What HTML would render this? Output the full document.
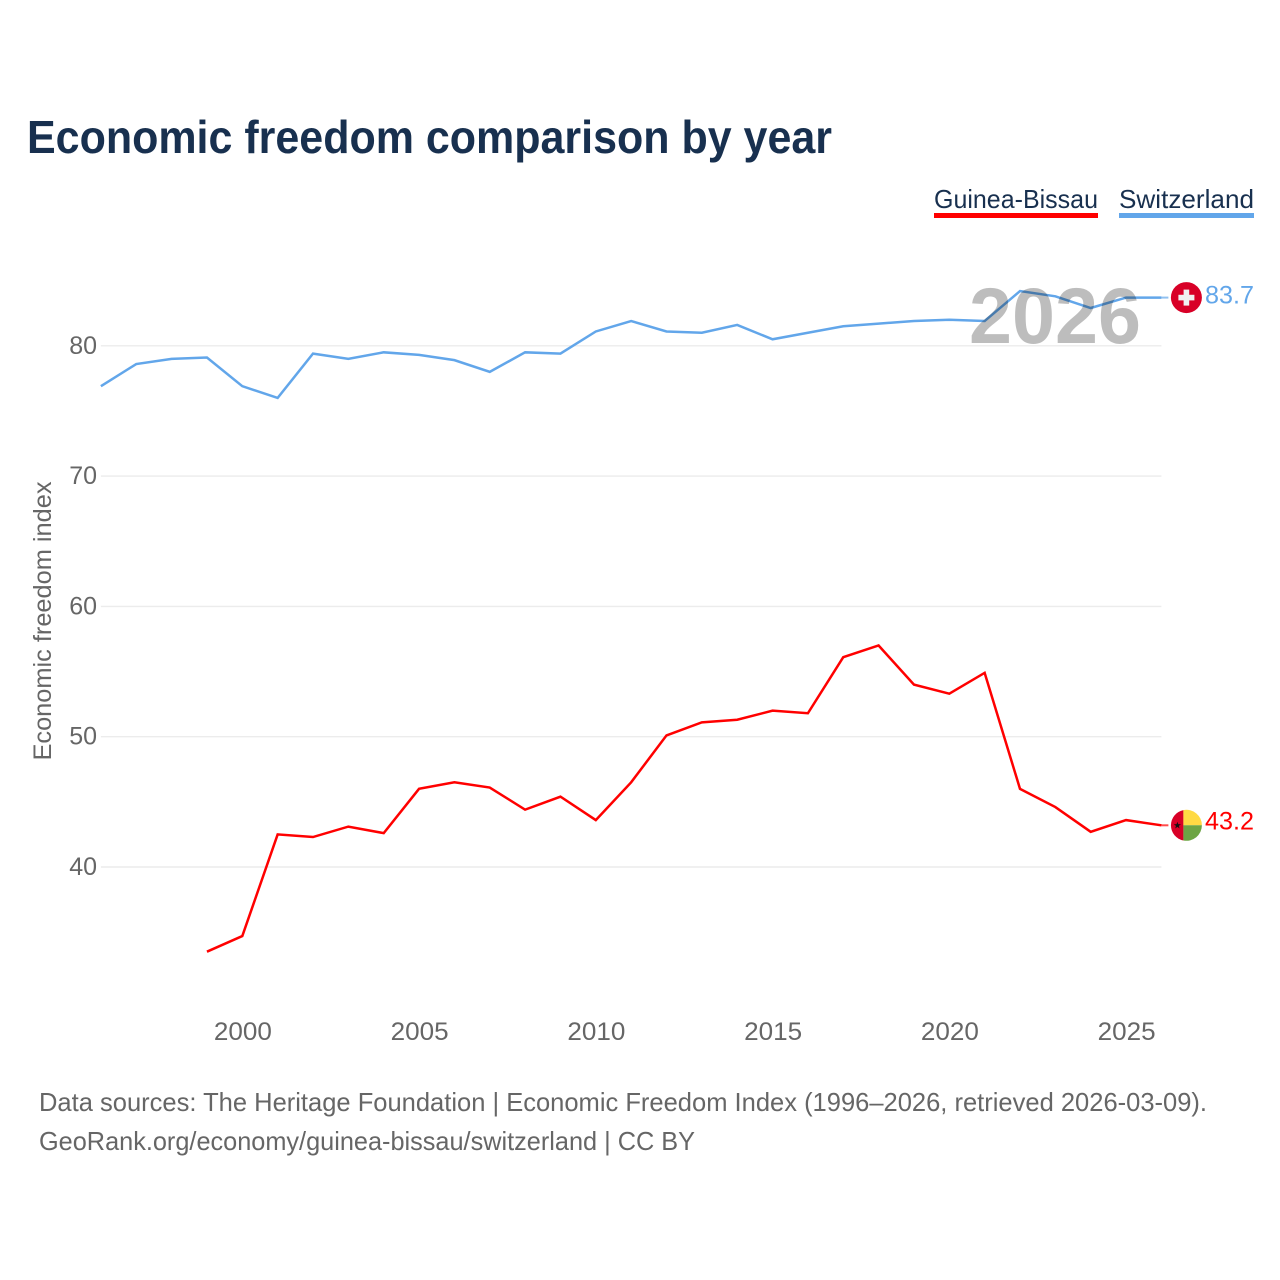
<!DOCTYPE html>
<html>
<head>
<meta charset="utf-8">
<title>Economic freedom comparison by year</title>
<style>
html,body{margin:0;padding:0;background:#fff;}
svg{display:block;font-family:"Liberation Sans",sans-serif;}
</style>
</head>
<body>
<svg id="chart" width="1280" height="1280" viewBox="0 0 1280 1280" xmlns="http://www.w3.org/2000/svg">
<rect width="1280" height="1280" fill="#fff"/>
<text x="27" y="153" font-size="46" font-weight="700" fill="#18304f" textLength="805" lengthAdjust="spacingAndGlyphs">Economic freedom comparison by year</text>
<g id="grid"></g>
<g id="yticks"></g>
<g id="xticks"></g>
<text transform="translate(51,621) rotate(-90)" text-anchor="middle" font-size="25" fill="#666" textLength="279" lengthAdjust="spacingAndGlyphs">Economic freedom index</text>
<g id="series"></g>
<text x="1055" y="343" text-anchor="middle" font-size="79" font-weight="700" fill="#000" fill-opacity="0.26" textLength="172" lengthAdjust="spacingAndGlyphs">2026</text>
<g>
<text x="934" y="208" font-size="26" fill="#18304f" textLength="164" lengthAdjust="spacingAndGlyphs">Guinea-Bissau</text>
<rect x="934" y="213" width="164" height="5" fill="#ff0000"/>
</g>
<g>
<text x="1119" y="208" font-size="26" fill="#18304f" textLength="135" lengthAdjust="spacingAndGlyphs">Switzerland</text>
<rect x="1119" y="213" width="135" height="5" fill="#62a6ea"/>
</g>
<g id="endpoints"></g>
<text x="39" y="1111" font-size="26" fill="#666" textLength="1168" lengthAdjust="spacingAndGlyphs">Data sources: The Heritage Foundation | Economic Freedom Index (1996–2026, retrieved 2026-03-09).</text>
<text x="39" y="1150" font-size="26" fill="#666" textLength="656" lengthAdjust="spacingAndGlyphs">GeoRank.org/economy/guinea-bissau/switzerland | CC BY</text>
</svg>
<script>
const years = [1996,1997,1998,1999,2000,2001,2002,2003,2004,2005,2006,2007,2008,2009,2010,2011,2012,2013,2014,2015,2016,2017,2018,2019,2020,2021,2022,2023,2024,2025,2026];
const switzerlandValues = [76.9,78.6,79.0,79.1,76.9,76.0,79.4,79.0,79.5,79.3,78.9,78.0,79.5,79.4,81.1,81.9,81.1,81.0,81.6,80.5,81.0,81.5,81.7,81.9,82.0,81.9,84.2,83.8,82.9,83.7,83.7];
const guineaBissauValues = [null,null,null,33.5,34.7,42.5,42.3,43.1,42.6,46.0,46.5,46.1,44.4,45.4,43.6,46.5,50.1,51.1,51.3,52.0,51.8,56.1,57.0,54.0,53.3,54.9,46.0,44.6,42.7,43.6,43.2];
const yTickValues = [40,50,60,70,80];
const xTickValues = [2000,2005,2010,2015,2020,2025];

const NS = 'http://www.w3.org/2000/svg';
function xScale(year){ return 100.9 + (year - 1996) * 35.35; }
function yScale(value){ return 867 - (value - 40) * 13.03; }
function make(tag, parent, attrs, text){
  const el = document.createElementNS(NS, tag);
  for (const k in attrs) el.setAttribute(k, attrs[k]);
  if (text !== undefined) el.textContent = text;
  parent.appendChild(el);
  return el;
}
const grid = document.getElementById('grid');
const yticks = document.getElementById('yticks');
const xticks = document.getElementById('xticks');
const series = document.getElementById('series');
const endpoints = document.getElementById('endpoints');

yTickValues.forEach(function(v){
  const line = make('line', grid, {x1:xScale(1996), x2:xScale(2026), y1:yScale(v), y2:yScale(v), stroke:'#ececec', 'stroke-width':1.4});
  
  
  const label = make('text', yticks, {x:97, y:yScale(v)+8, 'text-anchor':'end', 'font-size':25, fill:'#666'}, String(v));
  
  
});
xTickValues.forEach(function(v){
  const label = make('text', xticks, {x:xScale(v)+0.6, y:1040, 'text-anchor':'middle', 'font-size':25, fill:'#666', textLength:58, lengthAdjust:'spacingAndGlyphs'}, String(v));
  
  
});
function linePath(values){
  let d = '';
  values.forEach(function(v, i){
    if (v === null) return;
    d += (d ? 'L' : 'M') + xScale(years[i]).toFixed(2) + ' ' + yScale(v).toFixed(2);
  });
  return d;
}
const swissLine = make('path', series, {d:linePath(switzerlandValues), fill:'none', stroke:'#62a6ea', 'stroke-width':2.5, 'stroke-linejoin':'miter'});


const guineaLine = make('path', series, {d:linePath(guineaBissauValues), fill:'none', stroke:'#ff0000', 'stroke-width':2.5, 'stroke-linejoin':'miter'});



const lastSwiss = switzerlandValues[switzerlandValues.length - 1];
const lastGuinea = guineaBissauValues[guineaBissauValues.length - 1];
const endX = xScale(years[years.length - 1]);
const flagX = endX + 25;
const swissY = yScale(lastSwiss);
const guineaY = yScale(lastGuinea);

const swissLeader = make('line', endpoints, {x1:endX, x2:endX + 7, y1:swissY, y2:swissY, stroke:'#62a6ea', 'stroke-width':2, 'stroke-opacity':0.7});


const guineaLeader = make('line', endpoints, {x1:endX, x2:endX + 7, y1:guineaY, y2:guineaY, stroke:'#ff0000', 'stroke-width':2, 'stroke-opacity':0.7});



const swissFlag = make('g', endpoints, {transform:'translate(' + flagX + ',' + swissY + ')'});


make('circle', swissFlag, {r:15.5, fill:'#d80027'});
make('rect', swissFlag, {x:-8, y:-2.8, width:16, height:5.6, fill:'#f0f0f0'});
make('rect', swissFlag, {x:-2.8, y:-8, width:5.6, height:16, fill:'#f0f0f0'});

const guineaFlag = make('g', endpoints, {transform:'translate(' + flagX + ',' + guineaY + ')'});


make('path', guineaFlag, {d:'M-3-15.2A15.5 15.5 0 0 0 -3 15.2Z', fill:'#d80027'});
make('path', guineaFlag, {d:'M-3-15.2A15.5 15.5 0 0 1 15.5 0H-3Z', fill:'#ffda44'});
make('path', guineaFlag, {d:'M-3 15.2A15.5 15.5 0 0 0 15.5 0H-3Z', fill:'#6da544'});
make('polygon', guineaFlag, {points:'-9,-3.6 -8.1,-1.1 -5.4,-1.1 -7.6,0.6 -6.8,3.2 -9,1.6 -11.2,3.2 -10.4,0.6 -12.6,-1.1 -9.9,-1.1', fill:'#111'});

const swissValue = make('text', endpoints, {x:1254, y:swissY+6, 'text-anchor':'end', 'font-size':25, fill:'#62a6ea', textLength:49, lengthAdjust:'spacingAndGlyphs'}, lastSwiss.toFixed(1));


const guineaValue = make('text', endpoints, {x:1254, y:guineaY+4, 'text-anchor':'end', 'font-size':25, fill:'#ff0000', textLength:49, lengthAdjust:'spacingAndGlyphs'}, lastGuinea.toFixed(1));


</script>
</body>
</html>
